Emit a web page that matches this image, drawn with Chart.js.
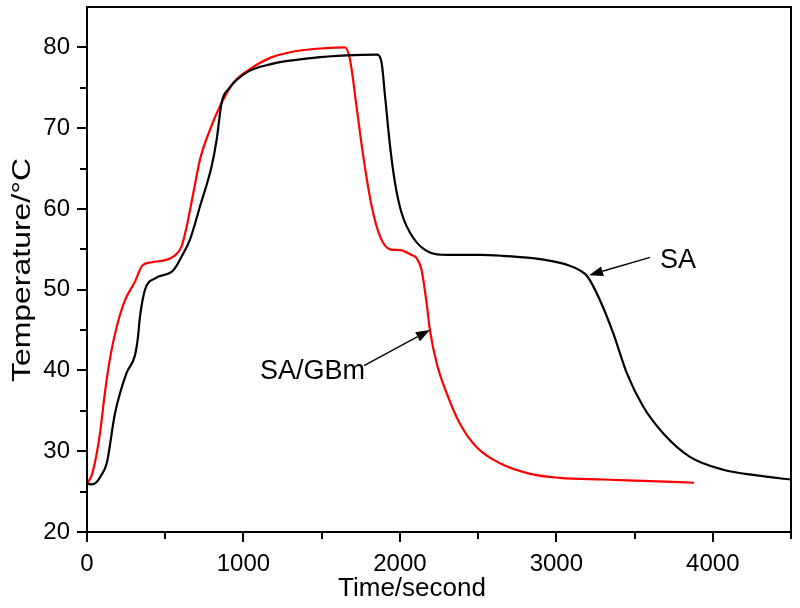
<!DOCTYPE html>
<html>
<head>
<meta charset="utf-8">
<script src="https://cdn.jsdelivr.net/npm/chart.js@4.4.1/dist/chart.umd.min.js"></script>
<style>
  html, body { margin: 0; padding: 0; background: #fff; }
  #c { display: block; }
</style>
</head>
<body>
<canvas id="c" width="800" height="608"></canvas>
<script>
// ---- data ----
const saTime = [0, 30, 62, 90, 126, 179, 253, 307, 325, 339, 371, 435, 552, 605, 658, 722, 797, 829, 861, 903, 1021, 1170, 1447, 1660, 1852, 1883, 1905, 1937, 1969, 2011, 2086, 2192, 2299, 2512, 2650, 2850, 2980, 3080, 3150, 3200, 3279, 3364, 3450, 3556, 3684, 3854, 4067, 4280, 4500];
const saTemp = [26.0, 25.9, 26.2, 27.0, 28.5, 34.7, 39.7, 41.9, 44.0, 46.7, 50.0, 51.4, 52.4, 54.1, 56.2, 60.3, 65.3, 68.6, 73.2, 74.8, 76.9, 77.9, 78.7, 79.0, 79.1, 78.1, 74.0, 67.8, 63.2, 59.5, 56.4, 54.6, 54.3, 54.3, 54.2, 53.9, 53.5, 53.0, 52.4, 51.6, 48.7, 44.6, 39.7, 35.5, 32.2, 29.3, 27.7, 27.0, 26.5];

const gbmTime = [0, 30, 60, 85, 115, 147, 190, 243, 307, 354, 413, 552, 605, 637, 680, 722, 786, 850, 935, 1042, 1170, 1298, 1447, 1649, 1681, 1724, 1766, 1820, 1873, 1937, 2001, 2075, 2107, 2139, 2171, 2192, 2235, 2299, 2384, 2491, 2640, 2832, 3023, 3300, 3600, 3880];
const gbmTemp = [26.0, 27.0, 29.5, 32.5, 37.3, 41.5, 45.4, 48.7, 51.0, 53.0, 53.4, 54.1, 55.4, 57.8, 62.0, 66.1, 69.8, 72.7, 75.6, 77.3, 78.7, 79.4, 79.8, 80.0, 78.5, 72.5, 66.5, 60.3, 56.6, 55.0, 54.9, 54.3, 53.9, 52.4, 48.3, 45.0, 40.9, 37.2, 33.4, 30.5, 28.5, 27.2, 26.7, 26.5, 26.3, 26.1];

const seriesNames = ['SA', 'SA/GBm'];
const xTitle = 'Time/second';
const yTitle = 'Temperature/°C';
const xRange = [0, 4500];
const yRange = [20, 85];

// annotation labels (anchor in data units)
const notes = [
  { text: 'SA',     textAt: [3663, 53.6], from: [3599, 54.0], to: [3209, 51.8] },
  { text: 'SA/GBm', textAt: [1106, 39.9], from: [1771, 40.6], to: [2192, 45.0] }
];

const FONT = '"Liberation Sans", Arial, sans-serif';

const toPts = (xs, ys) => xs.map((v, i) => ({ x: v, y: ys[i] }));

const decor = {
  id: 'decor',
  afterDraw(chart) {
    const { ctx, chartArea: a, scales: { x, y } } = chart;
    ctx.save();
    ctx.strokeStyle = '#000';
    ctx.lineWidth = 2;
    // frame
    ctx.strokeRect(a.left, a.top, a.right - a.left, a.bottom - a.top);
    // ticks (major/minor, outward)
    ctx.beginPath();
    x.ticks.forEach(t => {
      const px = Math.round(x.getPixelForValue(t.value));
      const len = t.value % 1000 === 0 ? 10 : 7;
      ctx.moveTo(px, a.bottom);
      ctx.lineTo(px, a.bottom + len);
    });
    y.ticks.forEach(t => {
      if (t.value > 80) return;
      const py = Math.round(y.getPixelForValue(t.value));
      const len = t.value % 10 === 0 ? 10 : 7;
      ctx.moveTo(a.left, py);
      ctx.lineTo(a.left - len, py);
    });
    ctx.stroke();

    // axis titles
    ctx.fillStyle = '#000';
    ctx.font = '26px ' + FONT;
    ctx.textAlign = 'center';
    ctx.textBaseline = 'middle';
    ctx.fillText(xTitle, 412, 589);
    ctx.save();
    ctx.font = '25px ' + FONT;
    const w = ctx.measureText(yTitle).width;
    ctx.translate(23, 270);
    ctx.rotate(-Math.PI / 2);
    ctx.scale(224 / w, 1);
    ctx.fillText(yTitle, 0, 0);
    ctx.restore();

    // annotations
    ctx.font = '27px ' + FONT;
    ctx.textAlign = 'left';
    ctx.textBaseline = 'middle';
    notes.forEach(n => {
      ctx.fillText(n.text, x.getPixelForValue(n.textAt[0]), y.getPixelForValue(n.textAt[1]));
      const x0 = x.getPixelForValue(n.from[0]), y0 = y.getPixelForValue(n.from[1]);
      const x1 = x.getPixelForValue(n.to[0]), y1 = y.getPixelForValue(n.to[1]);
      const ang = Math.atan2(y1 - y0, x1 - x0);
      const hl = 14, hw = 5;
      ctx.lineWidth = 1.4;
      ctx.beginPath();
      ctx.moveTo(x0, y0);
      ctx.lineTo(x1 - Math.cos(ang) * hl, y1 - Math.sin(ang) * hl);
      ctx.stroke();
      ctx.beginPath();
      ctx.moveTo(x1, y1);
      ctx.lineTo(x1 - Math.cos(ang) * hl - Math.sin(ang) * hw, y1 - Math.sin(ang) * hl + Math.cos(ang) * hw);
      ctx.lineTo(x1 - Math.cos(ang) * hl + Math.sin(ang) * hw, y1 - Math.sin(ang) * hl - Math.cos(ang) * hw);
      ctx.closePath();
      ctx.fill();
    });
    ctx.restore();
  }
};

new Chart(document.getElementById('c'), {
  type: 'line',
  data: {
    datasets: [
      { label: seriesNames[0], data: toPts(saTime, saTemp), borderColor: '#000000', borderWidth: 2.2, pointRadius: 0, cubicInterpolationMode: 'monotone', fill: false },
      { label: seriesNames[1], data: toPts(gbmTime, gbmTemp), borderColor: '#ff0000', borderWidth: 2.2, pointRadius: 0, cubicInterpolationMode: 'monotone', fill: false }
    ]
  },
  options: {
    responsive: false,
    devicePixelRatio: 1,
    animation: false,
    layout: { padding: { left: 0, right: 9, top: 7, bottom: 0 } },
    plugins: { legend: { display: false }, tooltip: { enabled: false } },
    scales: {
      x: {
        type: 'linear',
        min: xRange[0], max: xRange[1],
        grid: { display: false, drawTicks: false },
        border: { display: false },
        ticks: {
          stepSize: 500, autoSkip: false, maxRotation: 0, padding: 18,
          color: '#000', font: { family: FONT, size: 24 },
          callback: v => (v % 1000 === 0 ? String(v) : '')
        },
        afterFit: s => { s.height = 76; s.paddingLeft = 0; s.paddingRight = 0; }
      },
      y: {
        type: 'linear',
        min: yRange[0], max: yRange[1],
        grid: { display: false, drawTicks: false },
        border: { display: false },
        ticks: {
          stepSize: 5, autoSkip: false, padding: 17,
          color: '#000', font: { family: FONT, size: 24 },
          callback: v => (v % 10 === 0 && v <= 80 ? String(v) : '')
        },
        afterFit: s => { s.width = 87; s.paddingTop = 0; s.paddingBottom = 0; }
      }
    }
  },
  plugins: [decor]
});
</script>
</body>
</html>
